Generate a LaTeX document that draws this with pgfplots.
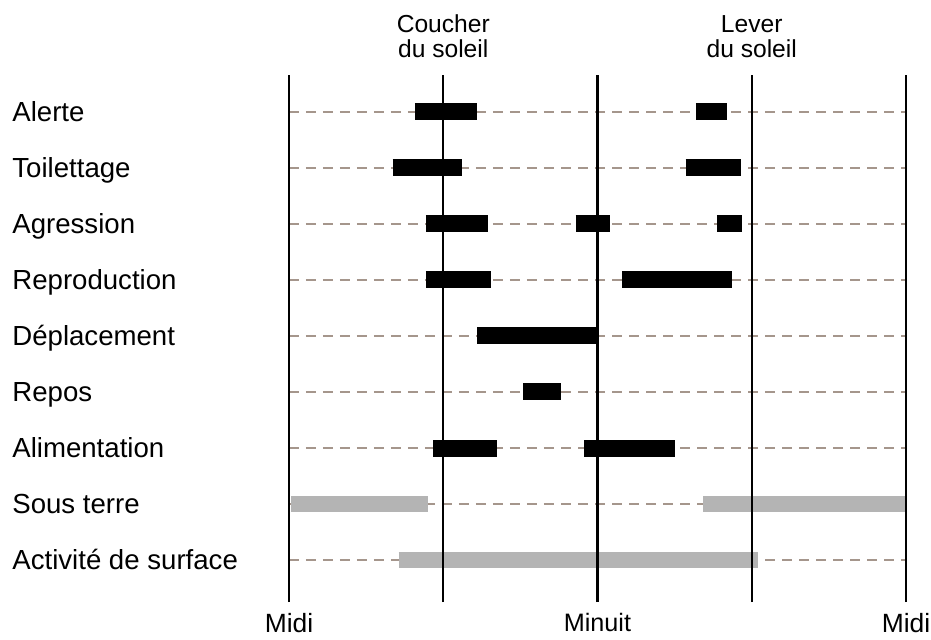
\documentclass[border=0pt]{standalone}
\usepackage{pgfplots}
\pgfplotsset{compat=1.18}
\usepackage{pgfplotstable}
\usepackage{fontspec}
\setmainfont{Liberation Sans}

\definecolor{dashgray}{RGB}{165,150,140}
\definecolor{bargray}{RGB}{180,180,180}

% hours after noon: start, length, row (9 = Alerte ... 1 = Activite de surface)
\pgfplotstableread{
start len row
4.90 2.43 9
15.83 1.21 9
4.03 2.69 8
15.43 2.14 8
5.32 2.43 7
11.15 1.34 7
16.64 0.97 7
5.32 2.55 6
12.96 4.28 6
7.32 4.67 5
9.11 1.46 4
5.61 2.47 3
11.49 3.51 3
}\blackbars

\pgfplotstableread{
start len row
0.08 5.33 2
16.12 7.88 2
4.26 13.99 1
}\graybars

\begin{document}
\begin{tikzpicture}
\begin{axis}[
    scale only axis,
    width=308.5pt, height=263.5pt,
    xmin=0, xmax=24,
    ymin=0.25, ymax=9.66,
    clip=false,
    axis line style={draw=none},
    major tick length=0pt,
    xtick={0,6,12,18,24},
    xticklabels={Midi,,{\fontsize{12.6}{15}\selectfont Minuit},,Midi},
    xticklabel style={font=\fontsize{13.2}{15}\selectfont, inner sep=1pt, yshift=-4.5pt},
    ytick={1,...,9},
    yticklabels={Activité de surface, Sous terre, Alimentation, Repos, Déplacement, Reproduction, Agression, Toilettage, Alerte},
    yticklabel style={font=\fontsize{13.8}{16}\selectfont, anchor=base west, inner sep=0pt, xshift=-138.5pt, yshift=-4.9pt},
    ymajorgrids,
    major y grid style={dashgray, line width=0.7pt, dash pattern=on 5pt off 3.5pt},
]
\addplot[quiver={u=\thisrow{len}, v=0}, black, line width=8.5pt, line cap=butt, -]
    table[x=start, y=row] {\blackbars};
\addplot[quiver={u=\thisrow{len}, v=0}, bargray, line width=8pt, line cap=butt, -]
    table[x=start, y=row] {\graybars};
% time markers drawn over the bars
\pgfplotsinvokeforeach{0,6,12,18,24}{
    \draw[black, line width=1.2pt] (axis cs:#1,0.25) -- (axis cs:#1,9.66);
}
\node[anchor=south, align=center, font=\fontsize{12.3}{12.8}\selectfont, yshift=5pt]
    at (axis cs:6,9.66) {Coucher\\du soleil};
\node[anchor=south, align=center, font=\fontsize{12.3}{12.8}\selectfont, yshift=5pt]
    at (axis cs:18,9.66) {Lever\\du soleil};
\coordinate (o) at (rel axis cs:0,0);
\end{axis}
\pgfresetboundingbox
\path (o) ++(-144.5pt,-18.5pt) rectangle ++(465.5pt,319.5pt);
\end{tikzpicture}
\end{document}
